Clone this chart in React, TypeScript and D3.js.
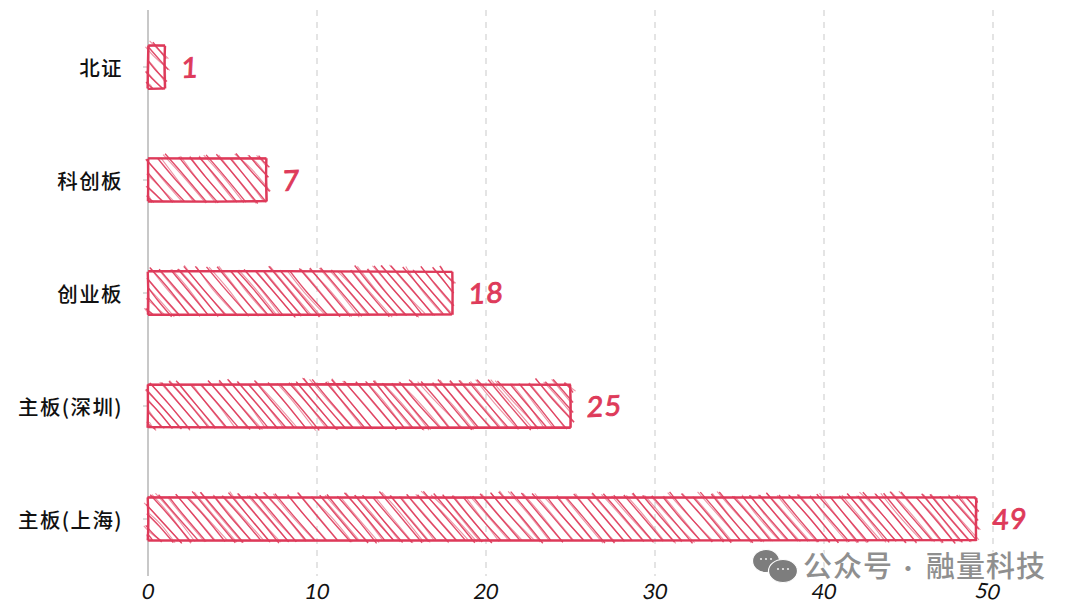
import React, { useEffect, useRef } from 'react';
import * as d3 from 'd3';

const categories = ['北证', '科创板', '创业板', '主板(深圳)', '主板(上海)'];
const counts = [1, 7, 18, 25, 49];
const xTicks = [0, 10, 20, 30, 40, 50];

const RED = '#de3a5a';
const WIDTH = 1080;
const HEIGHT = 609;
const HAND_FONT = '"Lato", "Noto Sans", sans-serif';
const CJK_FONT = '"Noto Sans CJK SC", sans-serif';

export default function App() {
  const svgRef = useRef<SVGSVGElement | null>(null);

  useEffect(() => {
    const svg = d3.select(svgRef.current);
    svg.selectAll('*').remove(); // Clear before redrawing

    const x = d3.scaleLinear().domain([0, 50]).range([148, 993]);
    const y = d3.scaleBand<string>()
      .domain(categories)
      .range([10.5, 575.5])
      .paddingInner(0.62)
      .paddingOuter(0.31);

    // hand-drawn wobble only, fixed seed so every run looks the same
    const rand = d3.randomLcg(0.37);
    const wob = (n: number) => (rand() - 0.5) * 2 * n;
    const curve = d3.line<[number, number]>().curve(d3.curveNatural);

    const rough = (x1: number, y1: number, x2: number, y2: number, j: number) => {
      const pts: [number, number][] = [
        [x1 + wob(j), y1 + wob(j)],
        [x1 + (x2 - x1) * 0.45 + wob(j), y1 + (y2 - y1) * 0.45 + wob(j)],
        [x2 + wob(j), y2 + wob(j)],
      ];
      return curve(pts) as string;
    };

    // grid
    svg.append('g')
      .selectAll('line')
      .data(xTicks.slice(1))
      .join('line')
      .attr('x1', d => x(d))
      .attr('x2', d => x(d))
      .attr('y1', 10)
      .attr('y2', 576)
      .attr('stroke', '#dcdcdc')
      .attr('stroke-width', 1.5)
      .attr('stroke-dasharray', '6 6');

    // x axis tick labels
    const xAxis = svg.append('g')
      .attr('transform', 'translate(0,579)')
      .call(d3.axisBottom(x).tickValues(xTicks).tickSize(0).tickPadding(5).tickFormat(d => String(d)));
    xAxis.select('.domain').remove();
    xAxis.selectAll<SVGTextElement, number>('text')
      .attr('font-family', HAND_FONT)
      .attr('font-size', 21)
      .attr('fill', '#111')
      .attr('transform', d => `translate(${d === 50 ? -2 : 2},0) skewX(-10) rotate(${d === 50 ? 6 : 0})`);

    // y axis labels and ticks
    const yAxis = svg.append('g')
      .attr('transform', 'translate(148,2)')
      .call(d3.axisLeft(y).tickSize(5).tickPadding(20));
    yAxis.select('.domain').remove();
    yAxis.selectAll('line').attr('stroke', '#cfcfcf').attr('stroke-width', 1.5).attr('transform', 'translate(0,-2)');
    yAxis.selectAll('text')
      .attr('font-family', CJK_FONT)
      .attr('font-size', 20.5)
      .attr('font-weight', 500)
      .attr('letter-spacing', 1.4)
      .attr('fill', '#111');

    // zero line
    svg.append('line')
      .attr('x1', x(0))
      .attr('x2', x(0))
      .attr('y1', 10)
      .attr('y2', 576)
      .attr('stroke', '#c8c8c8')
      .attr('stroke-width', 2);

    // bars
    const bars = svg.append('g');
    categories.forEach((cat, i) => {
      const x0 = x(0);
      const x1 = x(counts[i]);
      const y0 = y(cat) as number;
      const h = y.bandwidth();
      const y1 = y0 + h;
      const g = bars.append('g');
      const run = h * 0.85;

      // hachure strokes, each drawn twice like a pencil going over it
      for (let c = x0 - run + 5; c < x1; c += 9.5 + wob(2)) {
        const over = 3 + wob(3);
        const slope = run / h;
        let sx = c - over * slope;
        let sy = y0 - over;
        let ey = y1 + 1 + wob(1.5);
        let ex = c + (ey - y0) * slope;
        if (sx < x0) {
          sy = y0 + ((x0 - c) / slope);
          sx = x0 - 1 + wob(1.5);
        }
        if (ex > x1 + 2) {
          ey = y0 + (x1 + 2 - c) / slope;
          ex = x1 + 2 + wob(1);
        }
        if (ey <= sy + 3) continue;
        g.append('path')
          .attr('d', rough(sx, sy, ex, ey, 0.6))
          .attr('fill', 'none')
          .attr('stroke', RED)
          .attr('stroke-width', 1.4)
          .attr('stroke-opacity', 0.9);
        g.append('path')
          .attr('d', rough(sx + wob(2.5), sy, ex + wob(2.5), ey, 1))
          .attr('fill', 'none')
          .attr('stroke', RED)
          .attr('stroke-width', 1.1)
          .attr('stroke-opacity', 0.55);
      }

      // outline
      const edges: [number, number, number, number][] = [
        [x0, y0, x1, y0],
        [x1, y0, x1, y1],
        [x1, y1, x0, y1],
        [x0, y1, x0, y0],
      ];
      edges.forEach(e => {
        g.append('path')
          .attr('d', rough(e[0], e[1], e[2], e[3], 0.4))
          .attr('fill', 'none')
          .attr('stroke', RED)
          .attr('stroke-width', 2.4);
        g.append('path')
          .attr('d', rough(e[0], e[1], e[2], e[3], 0.9))
          .attr('fill', 'none')
          .attr('stroke', RED)
          .attr('stroke-width', 1.2)
          .attr('stroke-opacity', 0.6);
      });
    });

    // value labels
    svg.append('g')
      .selectAll('text')
      .data(categories)
      .join('text')
      .attr('transform', (d, i) => `translate(${x(counts[i]) + 16},${(y(d) as number) + y.bandwidth() / 2 + 11}) rotate(-3) skewX(-6)`)
      .attr('font-family', HAND_FONT)
      .attr('font-size', 28)
      .attr('font-weight', 400)
      .attr('letter-spacing', 1.5)
      .attr('fill', RED)
      .attr('stroke', RED)
      .attr('stroke-width', 0.9)
      .text((d, i) => counts[i]);

    // wechat watermark
    const mark = svg.append('g').attr('opacity', 0.95);
    const bubbles: [number, number, number, number][] = [
      [766, 561, 13.5, 11.5],
      [783, 571, 14.5, 11.5],
    ];
    bubbles.forEach(b => {
      mark.append('ellipse')
        .attr('cx', b[0])
        .attr('cy', b[1])
        .attr('rx', b[2])
        .attr('ry', b[3])
        .attr('fill', '#777')
        .attr('stroke', '#fff')
        .attr('stroke-width', 1.2);
      mark.selectAll(null)
        .data([-5, 0, 5])
        .join('circle')
        .attr('cx', d => b[0] + d)
        .attr('cy', b[1] - 2)
        .attr('r', 1.1)
        .attr('fill', '#e8e8e8');
    });
    mark.append('text')
      .attr('x', 803)
      .attr('y', 577)
      .attr('font-family', CJK_FONT)
      .attr('font-size', 29)
      .attr('font-weight', 500)
      .attr('letter-spacing', 1)
      .attr('fill', '#8a8a8a')
      .attr('stroke', '#fff')
      .attr('stroke-width', 2)
      .attr('paint-order', 'stroke')
      .text('公众号');
    mark.append('text')
      .attr('x', 908)
      .attr('y', 577)
      .attr('text-anchor', 'middle')
      .attr('font-family', CJK_FONT)
      .attr('font-size', 24)
      .attr('fill', '#8a8a8a')
      .text('·');
    mark.append('text')
      .attr('x', 926)
      .attr('y', 577)
      .attr('font-family', CJK_FONT)
      .attr('font-size', 29)
      .attr('font-weight', 500)
      .attr('letter-spacing', 1)
      .attr('fill', '#8a8a8a')
      .attr('stroke', '#fff')
      .attr('stroke-width', 2)
      .attr('paint-order', 'stroke')
      .text('融量科技');
  }, []);

  return (
    <svg
      ref={svgRef}
      width={WIDTH}
      height={HEIGHT}
      style={{ position: 'absolute', left: 0, top: 0, background: '#fff' }}
    />
  );
}
